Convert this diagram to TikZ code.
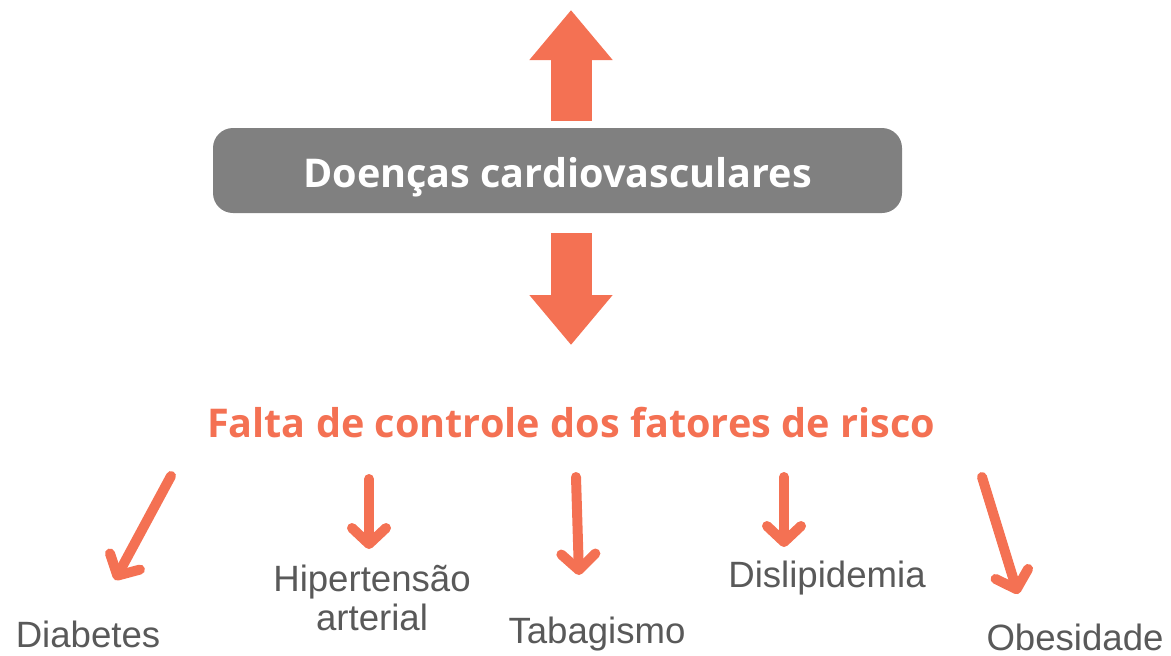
\documentclass[tikz,border=0pt]{standalone}
\usepackage{fontspec}
\setmainfont{Liberation Sans}
\newfontfamily\titlefont{Open Sans}
\usetikzlibrary{arrows.meta,positioning}
\definecolor{salmon}{RGB}{244,113,83}
\definecolor{boxgray}{RGB}{128,128,128}
\definecolor{labelgray}{RGB}{89,89,89}
\tikzset{
    title-box/.style = {fill=boxgray, text=white, rounded corners=10pt, minimum width=344.5pt, minimum height=42.5pt, text height=21.5pt, text depth=5pt, font=\titlefont\bfseries\fontsize{19.8}{23}\selectfont},
    cause-text/.style = {text=salmon, font=\titlefont\bfseries\fontsize{19.8}{23}\selectfont},
    risk-label/.style = {text=labelgray, align=center, font=\fontsize{18.3}{19.8}\selectfont, inner sep=0pt},
    big-arrow/.style = {draw=salmon, line width=20.5pt, -{Triangle[length=25pt,width=40pt]}},
    thin-arrow/.style = {draw=salmon, line width=5pt, line cap=round, -{Straight Barb[length=8pt,width=17pt,round]}},
}

\begin{document}
\begin{tikzpicture}[x=0.5pt,y=-0.5pt]
\useasboundingbox (0,0) rectangle (1171,655);
\node [title-box] (doencas) at (557.5,170.5) {Doenças cardiovasculares};
\node [cause-text] (falta) at (571,423) {Falta de controle dos fatores de risco};
\coordinate (up-start) at (571,121);
\coordinate (up-tip) at (571,10);
\coordinate (down-start) at (571,233);
\coordinate (down-tip) at (571,345);
\draw [big-arrow] (up-start) -- (up-tip);
\draw [big-arrow] (down-start) -- (down-tip);

\node [risk-label] (diabetes) at (88,634) {Diabetes};
\node [risk-label] (hipertensao) at (372,598) {Hipertensão\\arterial};
\node [risk-label] (tabagismo) at (597,634) {Tabagismo};
\node [risk-label] (dislipidemia) at (827,578) {Dislipidemia};
\node [risk-label] (obesidade) at (1075,637) {Obesidade};

\coordinate (d-start) at (171,476);
\coordinate (d-end) at (115,580);
\coordinate (h-start) at (369,479);
\coordinate (h-end) at (369,549);
\coordinate (t-start) at (576,477);
\coordinate (t-end) at (579,575);
\coordinate (l-start) at (784,477);
\coordinate (l-end) at (784,547);
\coordinate (o-start) at (982,477);
\coordinate (o-end) at (1018,594);
\draw [thin-arrow] (d-start) -- (d-end);
\draw [thin-arrow] (h-start) -- (h-end);
\draw [thin-arrow] (t-start) -- (t-end);
\draw [thin-arrow] (l-start) -- (l-end);
\draw [thin-arrow] (o-start) -- (o-end);
\end{tikzpicture}
\end{document}
